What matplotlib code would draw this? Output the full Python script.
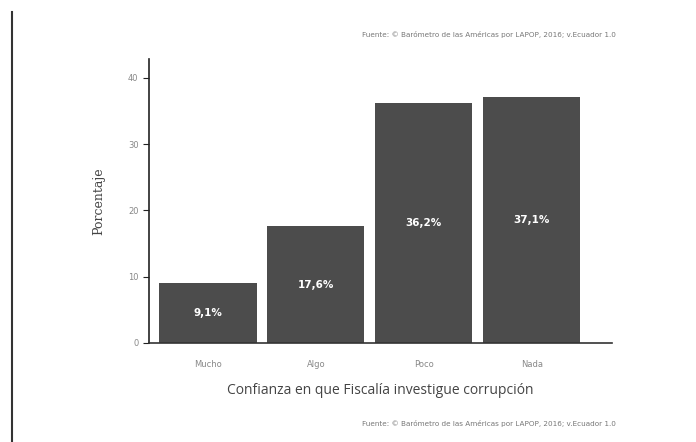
import matplotlib
matplotlib.use("Agg")
import matplotlib.pyplot as plt
from matplotlib.lines import Line2D

categorias = ["Mucho", "Algo", "Poco", "Nada"]
porcentajes = [9.1, 17.6, 36.2, 37.1]
etiquetas = ["9,1%", "17,6%", "36,2%", "37,1%"]
yticks = [0, 10, 20, 30, 40]
fuente = "Fuente: © Barómetro de las Américas por LAPOP, 2016; v.Ecuador 1.0"

fig = plt.figure(figsize=(6.96, 4.42), dpi=100)
ax = fig.add_axes([0.214, 0.224, 0.665, 0.643])

x = range(len(categorias))
ax.bar(x, porcentajes, width=0.9, color="#4c4c4c")
for xi, v, t in zip(x, porcentajes, etiquetas):
    ax.text(xi, v / 2, t, ha="center", va="center", color="white",
            fontsize=7.5, fontweight="bold")

ax.set_xlim(-0.546, 3.74)
ax.set_ylim(0, 42.9)
ax.set_xticks(list(x))
ax.set_xticklabels(categorias)
ax.set_yticks(yticks)
ax.tick_params(axis="both", labelsize=6, labelcolor="#888888", color="#222222", length=4)
ax.tick_params(axis="x", length=0, pad=12)
ax.spines["top"].set_visible(False)
ax.spines["right"].set_visible(False)
ax.spines["left"].set_color("#222222")
ax.spines["bottom"].set_color("#333333")
ax.spines["left"].set_linewidth(1.2)
ax.spines["bottom"].set_linewidth(1.2)

ax.set_xlabel("Confianza en que Fiscalía investigue corrupción", fontsize=10,
              color="#444444", family="Open Sans", labelpad=10)
ax.set_ylabel("Porcentaje", fontsize=9, color="#444444", family="DejaVu Serif",
              labelpad=16)

fig.text(0.885, 0.923, fuente, fontsize=5.2, color="#777777", ha="right", va="center")
fig.text(0.885, 0.041, fuente, fontsize=5.2, color="#777777", ha="right", va="center")

fig.add_artist(Line2D([0.017, 0.017], [0.0, 0.973], color="#333333", linewidth=1.5,
                      transform=fig.transFigure))

fig.savefig("out.png", dpi=100, facecolor="white")
